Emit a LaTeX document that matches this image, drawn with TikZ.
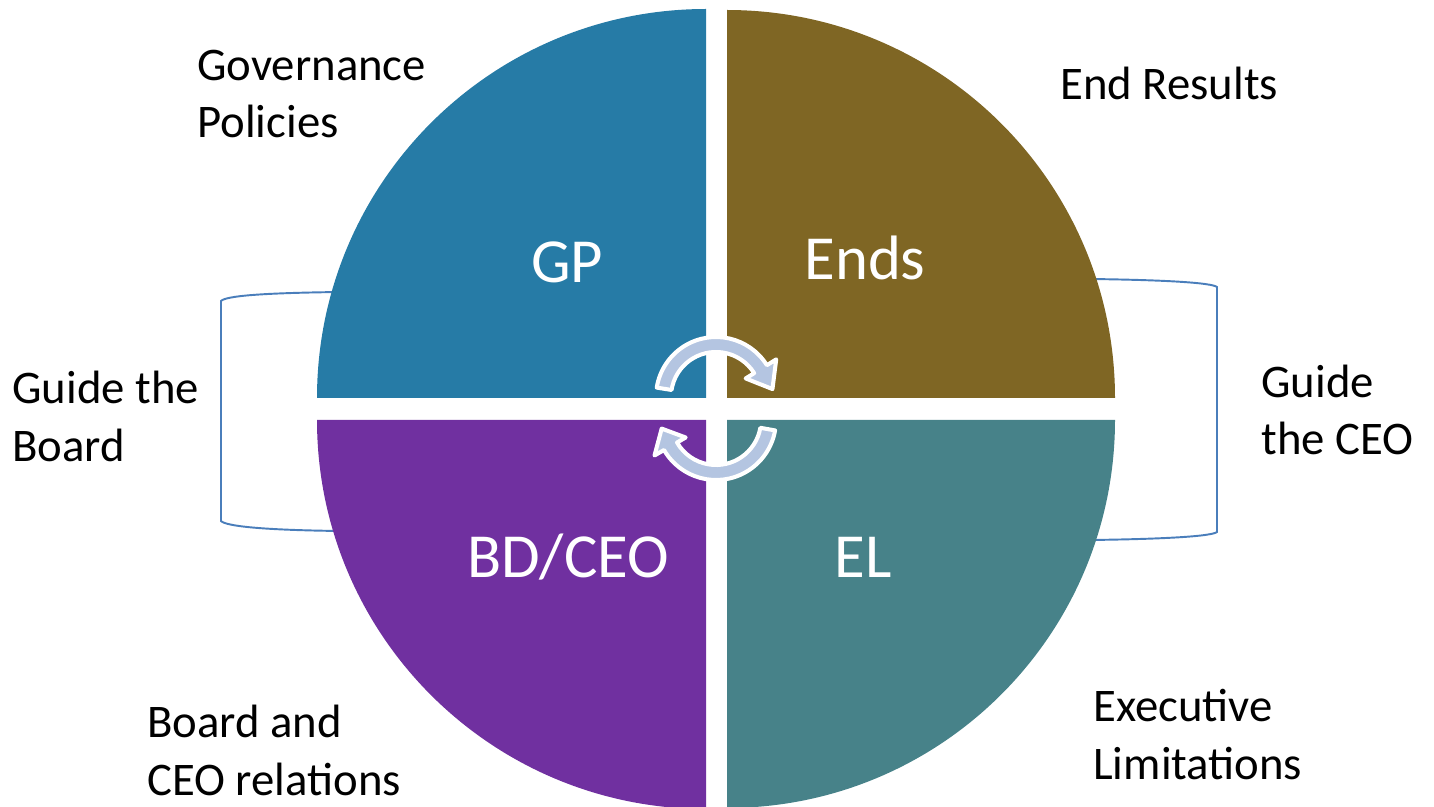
\documentclass[tikz,border=0pt]{standalone}
\usepackage{fontspec}
\setmainfont{Carlito}
\definecolor{gpblue}{RGB}{38,123,166}
\definecolor{endsbrown}{RGB}{127,102,36}
\definecolor{bdpurple}{RGB}{112,48,160}
\definecolor{elteal}{RGB}{71,130,137}
\definecolor{cycblue}{RGB}{180,197,225}
\definecolor{braceblue}{RGB}{74,126,187}
\tikzset{
  lbl/.style={anchor=base west,inner sep=0pt,align=left,font=\fontsize{26.6}{32.9}\selectfont},
  big/.style={anchor=base,inner sep=0pt,text=white,font=\fontsize{35.7}{42}\selectfont},
  brace/.style={draw=braceblue,line width=1.1pt},
  cyc/.style={fill=cycblue,draw=white,line width=2.3pt,line join=round}
}
\begin{document}
\begin{tikzpicture}[x=0.02cm,y=0.02cm]
		\useasboundingbox (0,0) rectangle (1434,-807);
		% brackets
		\draw[brace] (340,-292) .. controls (260,-293) and (226,-296) .. (221,-301) -- (221,-521) .. controls (226,-526) and (260,-530) .. (340,-531);
		\draw[brace] (1090,-279) .. controls (1170,-280) and (1212,-283) .. (1217,-287) -- (1217,-532) .. controls (1212,-536) and (1170,-539) .. (1090,-540);
		% quadrants
		\fill[gpblue] (706,-398) -- (317,-398) arc[start angle=180,end angle=90,radius=389] -- cycle;
		\fill[endsbrown] (727,-398) -- (727,-10) arc[start angle=90,end angle=0,radius=388] -- cycle;
		\fill[bdpurple] (706,-420) -- (706,-809) arc[start angle=270,end angle=180,radius=389] -- cycle;
		\fill[elteal] (727,-420) -- (1115,-420) arc[start angle=0,end angle=-90,radius=388] -- cycle;
		% cycle arrows
		\begin{scope}[shift={(716,-397)}]
		\filldraw[cyc] (171:45) arc[start angle=171,end angle=32,radius=45] -- (32:35) -- (8:57) -- (32:71) -- (32:60) arc[start angle=32,end angle=171,radius=60] -- cycle;
		\end{scope}
		\begin{scope}[shift={(716,-420)}]
		\filldraw[cyc] (-10:45) arc[start angle=-10,end angle=-150,radius=45] -- (-150:35) -- (-171:55) -- (-150:71) -- (-150:60) arc[start angle=-150,end angle=-10,radius=60] -- cycle;
		\end{scope}
		\node[big] (gp) at (567,-283) {GP};
		\node[big] (ends) at (865,-280) {Ends};
		\node[big] (bdceo) at (568,-577) {BD/CEO};
		\node[big] (el) at (863,-577) {EL};
		\node[lbl] (gov) at (197,-138) {Governance\\Policies};
		\node[lbl] (endres) at (1060,-100) {End Results};
		\node[lbl] (gboard) at (12,-461) {Guide the\\Board};
		\node[lbl] (gceo) at (1261,-455) {Guide\\the CEO};
		\node[lbl] (bdrel) at (147,-795) {Board and\\CEO relations};
		\node[lbl] (exlim) at (1093,-779) {Executive\\Limitations};
\end{tikzpicture}
\end{document}
